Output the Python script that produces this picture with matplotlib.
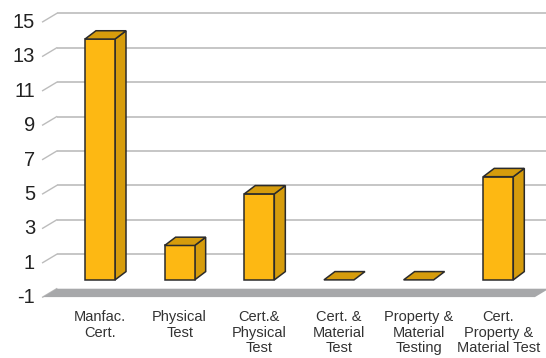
import matplotlib
matplotlib.use('Agg')
import matplotlib.pyplot as plt
from matplotlib.patches import Polygon

# =========================
# Data
# =========================
categories = ['Manfac.\nCert.', 'Physical\nTest', 'Cert.&\nPhysical\nTest',
              'Cert. &\nMaterial\nTest', 'Property &\nMaterial\nTesting',
              'Cert.\nProperty &\nMaterial Test']
values = [14, 2, 5, 0, 0, 6]
yticks = [-1, 1, 3, 5, 7, 9, 11, 13, 15]

# =========================
# Style
# =========================
front_color = '#FDB813'
side_color = '#D69C0C'
edge_color = '#2b2b2b'
grid_color = '#bcbcbc'
floor_color = '#a7a8aa'
bar_w = 0.377
bar_dx, bar_dy = 0.138, 0.483      # bar depth (category units, value units)
wall_dx, wall_dy = 0.176, 0.488    # depth of the back wall
x_left, x_right = -0.72, 5.46
floor_v = -1

plt.rcParams['font.family'] = ['Liberation Sans', 'DejaVu Sans']

fig = plt.figure(figsize=(5.46, 3.58), dpi=100)
ax = fig.add_axes([0, 0, 1, 1])
ax.set_xlim(-1.2553, 5.599)
ax.set_ylim(-4.54, 16.27)
ax.axis('off')

# gridlines on the back wall + short diagonal ticks
for v in yticks:
    if v != floor_v:
        ax.plot([x_left + wall_dx, 6.0], [v + wall_dy, v + wall_dy],
                color=grid_color, lw=1.2, zorder=1, solid_capstyle='butt')
    ax.plot([x_left, x_left + wall_dx], [v, v + wall_dy],
            color=grid_color, lw=1.0, zorder=1)
    ax.annotate(str(v), xy=(x_left, v), xytext=(-5.5, -0.5),
                textcoords='offset points', ha='right', va='center',
                fontsize=14.5, color='#222222')

# floor
ax.add_patch(Polygon([(x_left, floor_v), (x_right, floor_v),
                      (x_right + wall_dx, floor_v + wall_dy),
                      (x_left + wall_dx, floor_v + wall_dy)],
                     closed=True, facecolor=floor_color, edgecolor='none',
                     zorder=2))

# 3D bars
for i, v in enumerate(values):
    x0, x1 = i - bar_w / 2, i + bar_w / 2
    top = [(x0, v), (x1, v), (x1 + bar_dx, v + bar_dy), (x0 + bar_dx, v + bar_dy)]
    if v > 0:
        side = [(x1, 0), (x1 + bar_dx, bar_dy), (x1 + bar_dx, v + bar_dy), (x1, v)]
        front = [(x0, 0), (x1, 0), (x1, v), (x0, v)]
        ax.add_patch(Polygon(side, closed=True, facecolor=side_color,
                             edgecolor=edge_color, lw=1.1, zorder=3))
        ax.add_patch(Polygon(front, closed=True, facecolor=front_color,
                             edgecolor=edge_color, lw=1.1, zorder=4))
    ax.add_patch(Polygon(top, closed=True, facecolor=side_color,
                         edgecolor=edge_color, lw=1.1, zorder=4))

# category labels
for i, lab in enumerate(categories):
    ax.annotate(lab, xy=(i, floor_v), xytext=(0, -9.5),
                textcoords='offset points', ha='center', va='top',
                fontsize=10.5, color='#333333', linespacing=1.13)

fig.savefig('out.png', dpi=100)
